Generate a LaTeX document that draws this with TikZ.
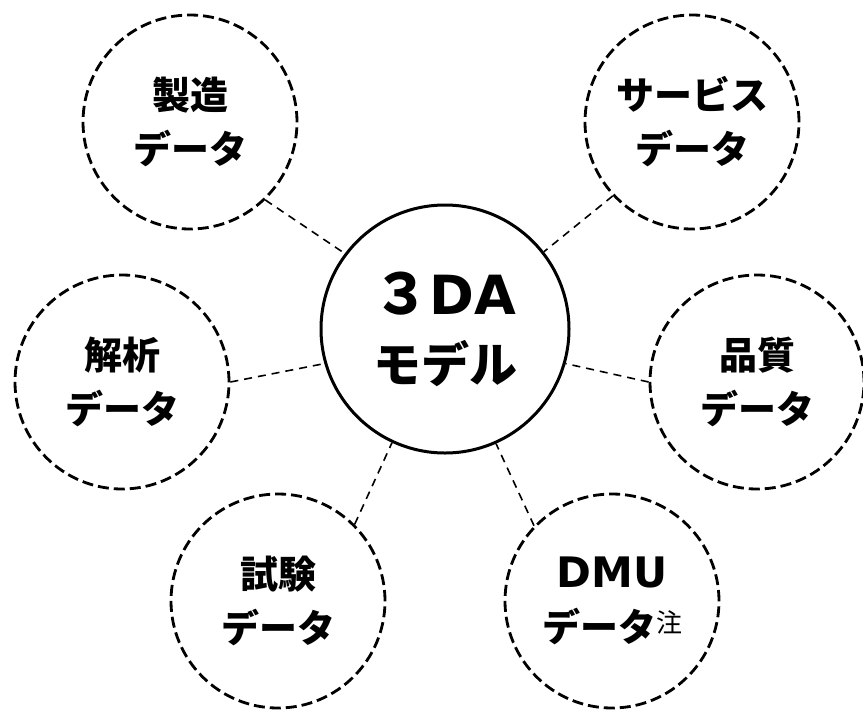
\documentclass[tikz,border=0pt]{standalone}
\usepackage{fontspec}
\newfontfamily\jp{Noto Sans CJK JP}
\newfontfamily\lat{DejaVu Sans}
\begin{document}
\begin{tikzpicture}[x=1pt,y=-1pt,
  sat/.style={circle, draw, line width=2.8pt, dash pattern=on 11pt off 5pt,
    minimum size=214pt, inner sep=0pt, align=center,
    font=\jp\bfseries\fontsize{38}{54}\selectfont},
  hub/.style={circle, draw, line width=3pt, minimum size=248pt, inner sep=0pt,
    align=center, font=\bfseries\fontsize{48}{68}\selectfont},
  conn/.style={line width=1.6pt, dash pattern=on 8pt off 6pt}]
\useasboundingbox (0,0) rectangle (863,710);
\node[hub] (model) at (445,329) {{\jp\fontsize{56}{68}\selectfont ３}{\lat\fontsize{54}{68}\selectfont DA}\\{\jp モデル}};
\node[sat] (seizo) at (190,122) {製造\\データ};
\node[sat] (service) at (692,122) {サービス\\データ};
\node[sat] (kaiseki) at (122,382) {解析\\データ};
\node[sat] (hinshitsu) at (757,382) {品質\\データ};
\node[sat] (shiken) at (278,601) {試験\\データ};
\node[sat] (dmu) at (612,601) {{\lat\fontsize{42}{54}\selectfont DMU}\\データ{\mdseries\fontsize{26}{26}\selectfont\raisebox{9pt}{注}}};
\draw[conn] (seizo.-46) -- (model.143);
\draw[conn] (service.223) -- (model.38);
\draw[conn] (kaiseki.0) -- (model.196);
\draw[conn] (hinshitsu.180) -- (model.-16);
\draw[conn] (shiken.45) -- (model.245);
\draw[conn] (dmu.136) -- (model.-66);
\end{tikzpicture}
\end{document}
